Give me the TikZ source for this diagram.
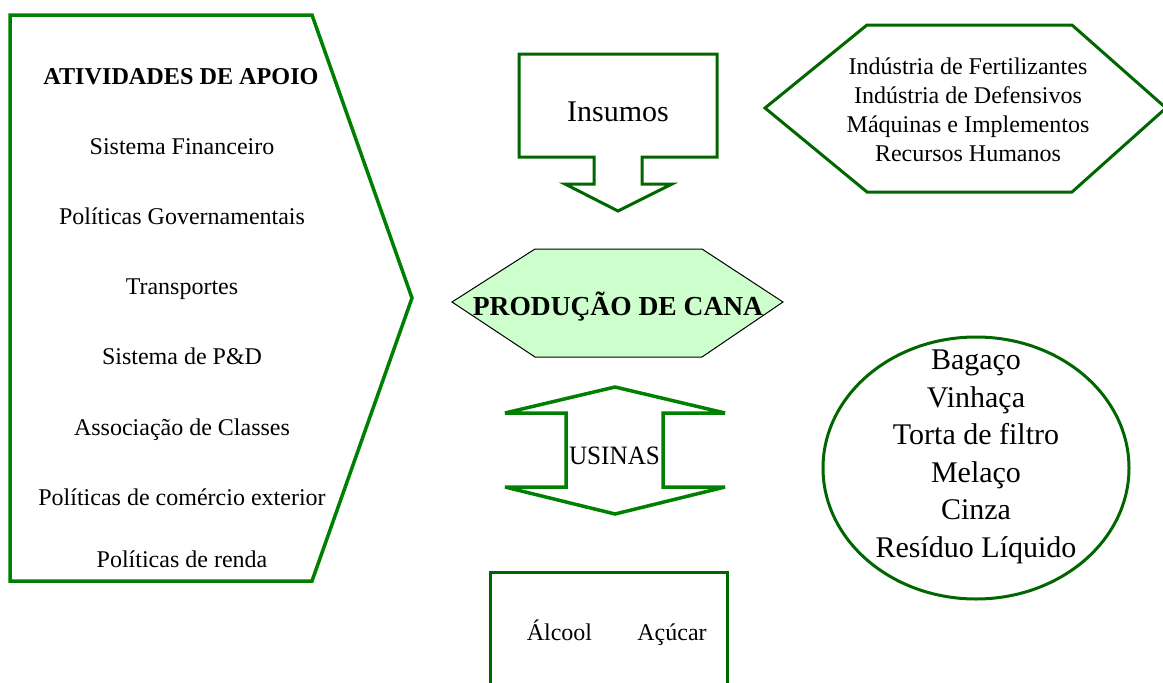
\documentclass[tikz,border=0pt]{standalone}
\usepackage{fontspec}
\setmainfont{Liberation Serif}
\usetikzlibrary{shapes.geometric}
\definecolor{gA}{RGB}{0,128,0}
\definecolor{gB}{RGB}{0,102,0}
\definecolor{fillP}{RGB}{204,255,204}
\tikzset{
  outlineA/.style={draw=gA,line width=3.5pt,line join=miter,miter limit=3},
  outlineB/.style={draw=gB,line width=3pt,line join=miter},
  txt/.style={inner sep=0pt,font=\fontsize{24}{29}\selectfont,align=center},
  btxt/.style={inner sep=0pt,font=\fontsize{24}{29}\selectfont,anchor=base},
  big/.style={inner sep=0pt,font=\fontsize{30}{37.5}\selectfont,align=center},
}
\begin{document}
\begin{tikzpicture}[x=1pt,y=-1pt]
\useasboundingbox (0,0) rectangle (1163,683);
% left pentagon
\draw[outlineA] (10,15) -- (312,15) -- (412,298) -- (312,581) -- (10,581) -- cycle;
\node[btxt,font=\fontsize{24.2}{29}\selectfont\bfseries] (apoio) at (181,84) {ATIVIDADES DE APOIO};
\node[btxt] (s1) at (182,154) {Sistema Financeiro};
\node[btxt] (s2) at (182,224) {Políticas Governamentais};
\node[btxt] (s3) at (182,294) {Transportes};
\node[btxt] (s4) at (182,364) {Sistema de P\&D};
\node[btxt] (s5) at (182,435) {Associação de Classes};
\node[btxt] (s6) at (182,505) {Políticas de comércio exterior};
\node[btxt] (s7) at (182,567) {Políticas de renda};
% Insumos arrow
\draw[outlineB] (519,54) -- (717,54) -- (717,157) -- (642,157) -- (642,184) -- (672,184)
  -- (618,211) -- (565,184) -- (594,184) -- (594,157) -- (519,157) -- cycle;
\node[inner sep=0pt,font=\fontsize{30}{37.5}\selectfont,anchor=base] (insumos) at (618,121) {Insumos};
% right hexagon
\draw[outlineB] (765,108) -- (867,25) -- (1072,25) -- (1166,108) -- (1072,192) -- (867,192) -- cycle;
\node[txt] (ind) at (968,110) {Indústria de Fertilizantes\\Indústria de Defensivos\\Máquinas e Implementos\\Recursos Humanos};
% production hexagon
\draw[fill=fillP,draw=black,line width=1pt] (452,302) -- (535,249) -- (702,249) -- (783,302) -- (702,357) -- (535,357) -- cycle;
\node[inner sep=0pt,font=\fontsize{27.5}{33}\selectfont\bfseries,anchor=base] (prod) at (618,315) {PRODUÇÃO DE CANA};
% USINAS double arrow
\draw[outlineA] (615,387) -- (725,413) -- (663,413) -- (663,487) -- (725,487) -- (615,514)
  -- (505,487) -- (566,487) -- (566,413) -- (505,413) -- cycle;
\node[inner sep=0pt,font=\fontsize{26.5}{30}\selectfont,anchor=base] (usinas) at (614.5,464) {\scalebox{0.95}[1]{USINAS}};
% ellipse
\draw[outlineB] (976,468) ellipse [x radius=153, y radius=131];
\node[big] (res) at (976,457) {Bagaço\\Vinhaça\\Torta de filtro\\Melaço\\Cinza\\Resíduo Líquido};
% bottom box
\draw[outlineB] (490,690) -- (490,572) -- (727,572) -- (727,690);
\node[btxt] (alcool) at (559.5,640) {Álcool};
\node[btxt] (acucar) at (672,640) {Açúcar};
\end{tikzpicture}
\end{document}
